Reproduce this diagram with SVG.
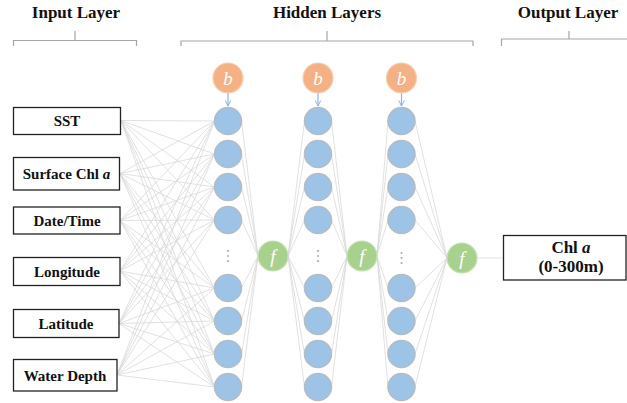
<svg xmlns="http://www.w3.org/2000/svg" width="627" height="403" viewBox="0 0 627 403">
<style>
.hdr{font-family:"Liberation Serif",serif;font-weight:bold;font-size:17px;fill:#111;text-anchor:middle}
.lbl{font-family:"Liberation Serif",serif;font-weight:bold;font-size:15px;fill:#111;text-anchor:middle}
.box{fill:#fff;stroke:#222;stroke-width:1.3}
.br{fill:none;stroke:#a6a6a6;stroke-width:1.2}
.n{fill:#9dc3e6;stroke:#b4bcc4;stroke-width:1.5}
.b{fill:#f4b183;stroke:#f8cdb0;stroke-width:1.2}
.f{fill:#a9d18e;stroke:#c5e0b4;stroke-width:1.2}
.sym{font-family:"Liberation Serif",serif;font-style:italic;font-size:19px;fill:#fff;text-anchor:middle}
.c{fill:none;stroke:#d9d9d9;stroke-width:0.8}
.ar{fill:none;stroke:#8db4e2;stroke-width:1.2}
.dot{fill:#a6a6a6}
</style>
<defs>
<marker id="v" viewBox="0 0 10 10" refX="9" refY="5" markerWidth="7" markerHeight="7" orient="auto" markerUnits="userSpaceOnUse">
<path d="M1,1 L9,5 L1,9" fill="none" stroke="#8db4e2" stroke-width="1.4"/>
</marker>
</defs>

<g id="headers">
<text class="hdr" x="76" y="18">Input Layer</text>
<text class="hdr" x="327" y="18">Hidden Layers</text>
<text class="hdr" x="568" y="18">Output Layer</text>
<path class="br" d="M13.5,46V40.5H136.5V46M75,40.5V31"/>
<path class="br" d="M181,46V41H473V46M327,41V31"/>
<path class="br" d="M501.5,46V39H627M569,39V31"/>
</g>

<g id="connectors">
<path class="c" d="M121,120.5L214.5,121M121,120.5L214.5,154M121,120.5L214.5,187M121,120.5L214.5,220M121,120.5L214.5,288M121,120.5L214.5,321M121,120.5L214.5,354M121,120.5L214.5,387"/>
<path class="c" d="M120,173.5L214.5,121M120,173.5L214.5,154M120,173.5L214.5,187M120,173.5L214.5,220M120,173.5L214.5,288M120,173.5L214.5,321M120,173.5L214.5,354M120,173.5L214.5,387"/>
<path class="c" d="M120,220.5L214.5,121M120,220.5L214.5,154M120,220.5L214.5,187M120,220.5L214.5,220M120,220.5L214.5,288M120,220.5L214.5,321M120,220.5L214.5,354M120,220.5L214.5,387"/>
<path class="c" d="M120,271L214.5,121M120,271L214.5,154M120,271L214.5,187M120,271L214.5,220M120,271L214.5,288M120,271L214.5,321M120,271L214.5,354M120,271L214.5,387"/>
<path class="c" d="M119,323.5L214.5,121M119,323.5L214.5,154M119,323.5L214.5,187M119,323.5L214.5,220M119,323.5L214.5,288M119,323.5L214.5,321M119,323.5L214.5,354M119,323.5L214.5,387"/>
<path class="c" d="M117,375L214.5,121M117,375L214.5,154M117,375L214.5,187M117,375L214.5,220M117,375L214.5,288M117,375L214.5,321M117,375L214.5,354M117,375L214.5,387"/>
<path class="c" d="M241.5,121L258,256M241.5,154L258,256M241.5,187L258,256M241.5,220L258,256M241.5,288L258,256M241.5,321L258,256M241.5,354L258,256M241.5,387L258,256"/>
<path class="c" d="M288,256L304.5,121M288,256L304.5,154M288,256L304.5,187M288,256L304.5,220M288,256L304.5,288M288,256L304.5,321M288,256L304.5,354M288,256L304.5,387"/>
<path class="c" d="M331.5,121L347,256M331.5,154L347,256M331.5,187L347,256M331.5,220L347,256M331.5,288L347,256M331.5,321L347,256M331.5,354L347,256M331.5,387L347,256"/>
<path class="c" d="M377,256L388,121M377,256L388,154M377,256L388,187M377,256L388,220M377,256L388,288M377,256L388,321M377,256L388,354M377,256L388,387"/>
<path class="c" d="M415,121L447,258M415,154L447,258M415,187L447,258M415,220L447,258M415,288L447,258M415,321L447,258M415,354L447,258M415,387L447,258"/>
<path class="c" d="M477,258H503"/>
<path class="ar" d="M228,93V106" marker-end="url(#v)"/>
<path class="ar" d="M318,93V106" marker-end="url(#v)"/>
<path class="ar" d="M401.5,93V106" marker-end="url(#v)"/>
</g>

<g id="in-sst"><rect class="box" x="13.5" y="107.5" width="107" height="27"/><text class="lbl" x="67" y="126">SST</text></g>
<g id="in-chl"><rect class="box" x="13.5" y="157.5" width="106" height="32.5"/><text class="lbl" x="66.5" y="179">Surface Chl <tspan font-style="italic">a</tspan></text></g>
<g id="in-date"><rect class="box" x="13.5" y="207" width="106.5" height="27"/><text class="lbl" x="67" y="226">Date/Time</text></g>
<g id="in-lon"><rect class="box" x="13.5" y="257.5" width="106.5" height="28"/><text class="lbl" x="67" y="277">Longitude</text></g>
<g id="in-lat"><rect class="box" x="13.5" y="309.5" width="105.5" height="28"/><text class="lbl" x="66" y="329">Latitude</text></g>
<g id="in-depth"><rect class="box" x="13.5" y="359.5" width="103.5" height="31.5"/><text class="lbl" x="65" y="381">Water Depth</text></g>

<g id="layer1">
<circle class="b" cx="228" cy="78" r="15"/><text class="sym" x="228" y="84.5">b</text>
<circle class="n" cx="228" cy="121" r="13.5"/>
<circle class="n" cx="228" cy="154" r="13.5"/>
<circle class="n" cx="228" cy="187" r="13.5"/>
<circle class="n" cx="228" cy="220" r="13.5"/>
<circle class="dot" cx="228" cy="251" r="1"/><circle class="dot" cx="228" cy="256" r="1"/><circle class="dot" cx="228" cy="261" r="1"/>
<circle class="n" cx="228" cy="288" r="13.5"/>
<circle class="n" cx="228" cy="321" r="13.5"/>
<circle class="n" cx="228" cy="354" r="13.5"/>
<circle class="n" cx="228" cy="387" r="13.5"/>
</g>
<g id="f1"><circle class="f" cx="273" cy="256" r="15"/><text class="sym" x="273" y="262.5">f</text></g>

<g id="layer2">
<circle class="b" cx="318" cy="78" r="15"/><text class="sym" x="318" y="84.5">b</text>
<circle class="n" cx="318" cy="121" r="13.5"/>
<circle class="n" cx="318" cy="154" r="13.5"/>
<circle class="n" cx="318" cy="187" r="13.5"/>
<circle class="n" cx="318" cy="220" r="13.5"/>
<circle class="dot" cx="318" cy="251" r="1"/><circle class="dot" cx="318" cy="256" r="1"/><circle class="dot" cx="318" cy="261" r="1"/>
<circle class="n" cx="318" cy="288" r="13.5"/>
<circle class="n" cx="318" cy="321" r="13.5"/>
<circle class="n" cx="318" cy="354" r="13.5"/>
<circle class="n" cx="318" cy="387" r="13.5"/>
</g>
<g id="f2"><circle class="f" cx="362" cy="256" r="15"/><text class="sym" x="362" y="262.5">f</text></g>

<g id="layer3">
<circle class="b" cx="401.5" cy="78" r="15"/><text class="sym" x="401.5" y="84.5">b</text>
<circle class="n" cx="401.5" cy="121" r="13.5"/>
<circle class="n" cx="401.5" cy="154" r="13.5"/>
<circle class="n" cx="401.5" cy="187" r="13.5"/>
<circle class="n" cx="401.5" cy="220" r="13.5"/>
<circle class="dot" cx="401.5" cy="253" r="1"/><circle class="dot" cx="401.5" cy="258" r="1"/><circle class="dot" cx="401.5" cy="263" r="1"/>
<circle class="n" cx="401.5" cy="288" r="13.5"/>
<circle class="n" cx="401.5" cy="321" r="13.5"/>
<circle class="n" cx="401.5" cy="354" r="13.5"/>
<circle class="n" cx="401.5" cy="387" r="13.5"/>
</g>
<g id="f3"><circle class="f" cx="462" cy="258" r="15"/><text class="sym" x="462" y="264.5">f</text></g>

<g id="output"><rect class="box" x="503.5" y="235.5" width="122.5" height="44.5"/>
<text class="hdr" x="571" y="253">Chl <tspan font-style="italic">a</tspan></text>
<text class="hdr" x="571" y="272">(0-300m)</text></g>
</svg>
